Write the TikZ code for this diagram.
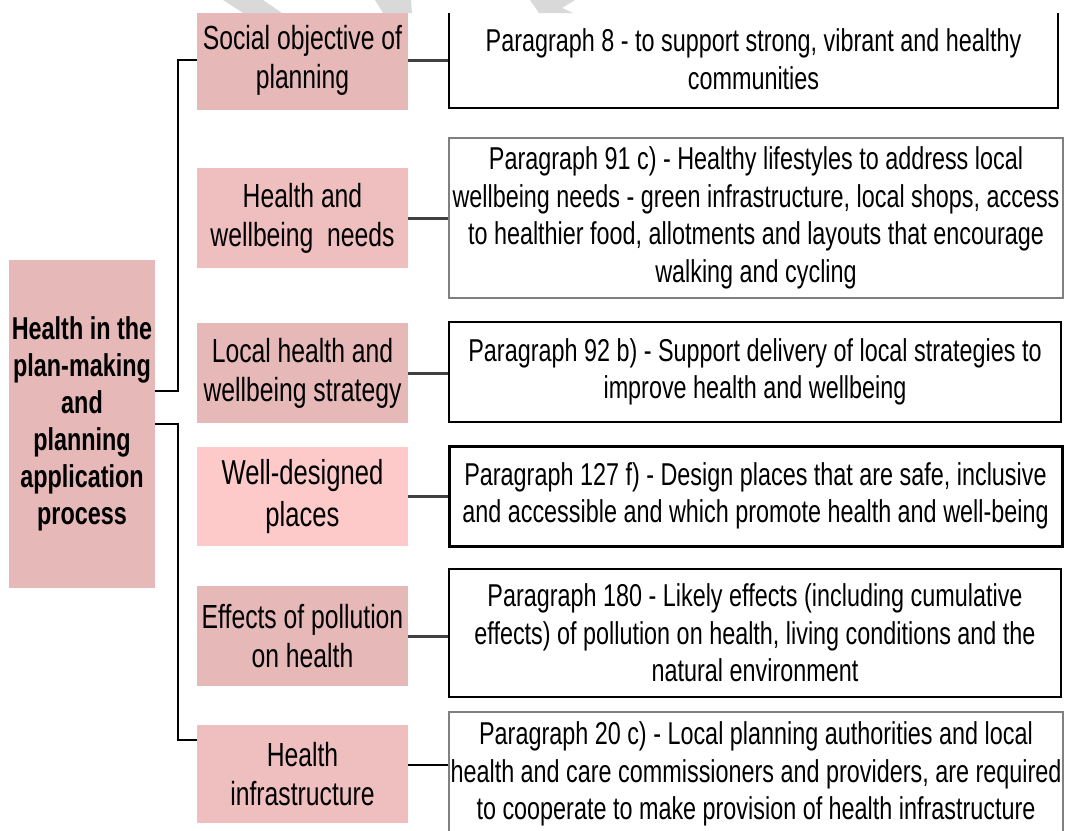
\documentclass[tikz,border=0pt]{standalone}
\usepackage{fontspec}
\newfontfamily\nf{Liberation Sans}[FakeStretch=0.74]
\definecolor{pinkA}{HTML}{E6B8B7}
\definecolor{pinkB}{HTML}{EFBEBE}
\definecolor{pinkC}{HTML}{FDC9C9}
\definecolor{wmgray}{HTML}{D9D9D9}
\begin{document}
\begin{tikzpicture}[x=1pt,y=-1pt,
  midbox/.style={rectangle, fill=pinkA, minimum width=211pt, minimum height=100pt, inner sep=0pt, align=center, font=\nf\fontsize{33.4}{39}\selectfont},
  rootbox/.style={rectangle, fill=pinkA, minimum width=146pt, minimum height=328pt, inner sep=0pt, align=center, font=\nf\bfseries\fontsize{31.6}{37}\selectfont},
  parbox/.style={rectangle, draw=black, line width=2.2pt, fill=white, inner sep=0pt, align=center, font=\nf\fontsize{31.6}{37.5}\selectfont},
  thinbox/.style={parbox, draw=black!50, line width=1.2pt},
  conn/.style={draw=black!75, line width=3pt},
  trunk/.style={draw=black, line width=2pt}]
\useasboundingbox (0,0) rectangle (1067,830);
\fill[white] (0,0) rectangle (1067,830);
\begin{scope}
\clip (0,13) rectangle (1067,830);
% root
\node[rootbox] (root) at (82,424) {Health in the\\plan-making\\and\\planning\\application\\process};
% middle boxes
\node[midbox] (soc) at (302.5,60) {Social objective of\\planning};
\node[midbox, fill=pinkB] (hwn) at (302.5,218) {Health and\\wellbeing\ \ needs};
\node[midbox] (lhw) at (302.5,373) {Local health and\\wellbeing strategy};
\node[midbox, fill=pinkC, minimum height=99pt, font=\nf\fontsize{34.6}{42}\selectfont] (wdp) at (302.5,496.5) {Well-designed\\places};
\node[midbox] (eop) at (302.5,636) {Effects of pollution\\on health};
\node[midbox, fill=pinkB, minimum height=98pt] (hin) at (302.5,774) {Health\\infrastructure};
% right boxes
\node[parbox, minimum width=609pt, minimum height=98pt] (p8) at (753.5,59) {Paragraph 8 - to support strong, vibrant and healthy\\communities};
\node[thinbox, minimum width=614pt, minimum height=160pt] (p91) at (756,218) {Paragraph 91 c) - Healthy lifestyles to address local\\wellbeing needs - green infrastructure, local shops, access\\to healthier food, allotments and layouts that encourage\\walking and cycling};
\node[parbox, line width=2.6pt, minimum width=612pt, minimum height=100pt] (p92) at (755,372) {Paragraph 92 b) - Support delivery of local strategies to\\improve health and wellbeing};
\node[parbox, line width=3pt, minimum width=613pt, minimum height=100pt] (p127) at (755.5,496) {Paragraph 127 f) - Design places that are safe, inclusive\\and accessible and which promote health and well-being};
\node[parbox, minimum width=612pt, minimum height=128pt] (p180) at (755,633) {Paragraph 180 - Likely effects (including cumulative\\effects) of pollution on health, living conditions and the\\natural environment};
\node[thinbox, minimum width=614pt, minimum height=124pt] (p20) at (756,774) {Paragraph 20 c) - Local planning authorities and local\\health and care commissioners and providers, are required\\to cooperate to make provision of health infrastructure};
% connectors
\draw[trunk] ([yshift=33pt]root.east) -- ++(23,0) |- (soc.west);
\draw[trunk] (root.east) -- ++(23,0) |- ([yshift=34pt]hin.west);
\draw[conn] (soc.east) -- (soc.east -| p8.west);
\draw[conn] (hwn.east) -- (hwn.east -| p91.west);
\draw[conn] (lhw.east) -- (lhw.east -| p92.west);
\draw[conn] (wdp.east) -- (wdp.east -| p127.west);
\draw[conn] (eop.east) -- (eop.east -| p180.west);
\draw[draw=black, line width=2pt] ([yshift=9pt]hin.east) -- ([yshift=9pt]hin.east -| p20.west);
\end{scope}
% watermark fragments in the top strip
\begin{scope}
\clip (0,0) rectangle (1067,13);
\fill[wmgray] (223,0) -- (263,0) -- (282,13) -- (243,13) -- cycle;
\fill[wmgray] (375,0) -- (411,0) -- (412,13) -- (383,13) .. controls (380,8) .. (375,0) -- cycle;
\fill[wmgray] (530,0) -- (575,0) -- (562,8) -- (573,13) -- (539,13) -- cycle;
\end{scope}
\end{tikzpicture}
\end{document}
